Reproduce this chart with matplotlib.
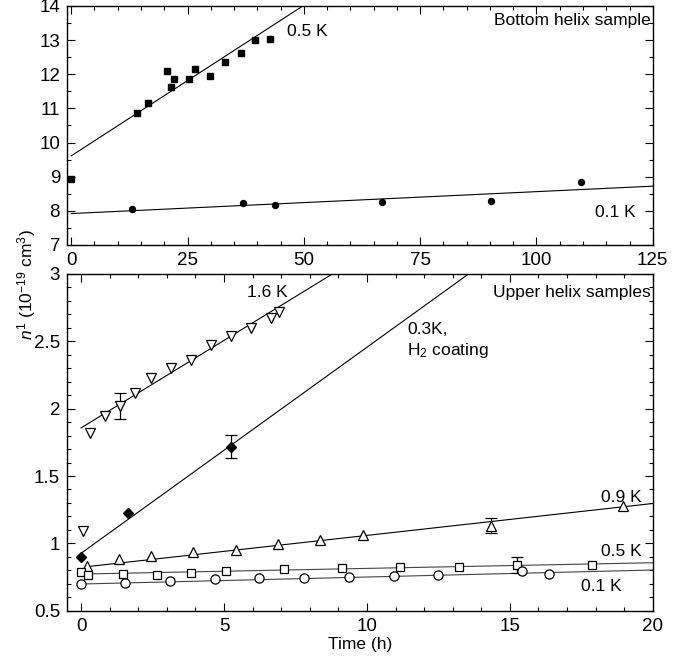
import matplotlib
matplotlib.use("Agg")
import matplotlib.pyplot as plt
import matplotlib.ticker as mticker
import numpy as np

plt.rcParams["font.family"] = ["Liberation Sans", "DejaVu Sans"]
plt.rcParams["font.size"] = 12.5
plt.rcParams["mathtext.fontset"] = "custom"
plt.rcParams["mathtext.rm"] = "Liberation Sans"
plt.rcParams["mathtext.it"] = "Liberation Sans:italic"

# --- bottom helix sample (time in h) ---
top_sq_t = [0, 14.1, 16.4, 20.5, 21.5, 22.1, 25.3, 26.6, 29.9, 33.1, 36.4, 39.6, 42.8]
top_sq_n = [8.93, 10.87, 11.17, 12.09, 11.63, 11.87, 11.87, 12.14, 11.94, 12.36, 12.61, 13.01, 13.04]
top_sq_fit = (9.61, 0.0882)          # intercept, slope

top_ci_t = [13.1, 37.0, 43.8, 66.8, 90.3, 109.6]
top_ci_n = [8.05, 8.24, 8.17, 8.25, 8.29, 8.84]
top_ci_fit = (7.92, 0.00642)

# --- upper helix samples ---
k16_t = [0.08, 0.31, 0.84, 1.38, 1.88, 2.44, 3.16, 3.85, 4.53, 5.24, 5.95, 6.65, 6.92]
k16_n = [1.094, 1.82, 1.946, 2.02, 2.12, 2.227, 2.30, 2.36, 2.475, 2.537, 2.60, 2.67, 2.72]
k16_fit = (1.857, 0.130)
k16_err = (1.38, 2.02, 0.10)

h2_t = [0, 1.66, 5.26]
h2_n = [0.896, 1.228, 1.718]
h2_fit = (0.926, 0.153)
h2_err = (5.26, 1.718, 0.085)

k09_t = [0.22, 1.34, 2.43, 3.92, 5.41, 6.88, 8.36, 9.85, 14.35, 18.95]
k09_n = [0.834, 0.881, 0.908, 0.933, 0.950, 0.998, 1.027, 1.062, 1.131, 1.28]
k09_fit = (0.822, 0.0237)
k09_err = (14.35, 1.131, 0.055)

k05_t = [0, 0.23, 1.48, 2.67, 3.86, 5.08, 7.09, 9.13, 11.16, 13.22, 15.26, 17.88]
k05_n = [0.785, 0.765, 0.772, 0.767, 0.782, 0.795, 0.807, 0.814, 0.822, 0.827, 0.839, 0.839]
k05_fit = (0.772, 0.0042)
k05_err = (15.26, 0.839, 0.057)

k01_t = [0, 1.55, 3.10, 4.69, 6.24, 7.79, 9.38, 10.93, 12.48, 15.44, 16.37]
k01_n = [0.696, 0.705, 0.720, 0.735, 0.745, 0.745, 0.752, 0.755, 0.762, 0.797, 0.772]
k01_fit = (0.698, 0.0052)


def fit_line(ax, fit, x0, x1, color="black"):
    x = np.array([x0, x1])
    ax.plot(x, fit[0] + fit[1] * x, color=color, lw=0.8, zorder=2)


def err_bar(ax, err):
    ax.errorbar([err[0]], [err[1]], yerr=[err[2]], fmt="none", ecolor="black",
                elinewidth=0.9, capsize=4, capthick=0.9, zorder=3)


def style_axes(ax):
    ax.tick_params(which="both", direction="in", top=True, right=True, width=0.8,
                   labelsize=13.5)
    ax.tick_params(which="major", length=6, pad=5)
    ax.tick_params(which="minor", length=3)
    for s in ax.spines.values():
        s.set_linewidth(1.0)


fig = plt.figure(figsize=(6.73, 6.58), dpi=100)
ax1 = fig.add_axes([0.0996, 0.6277, 0.8704, 0.3632])
ax2 = fig.add_axes([0.0996, 0.0719, 0.8704, 0.5117])

# top panel
fit_line(ax1, top_sq_fit, 0, 55)
fit_line(ax1, top_ci_fit, 0, 126)
ax1.plot(top_sq_t, top_sq_n, "s", color="black", ms=4.8, zorder=4)
ax1.plot(top_ci_t, top_ci_n, "o", color="black", ms=4.3, zorder=4)
ax1.set_xlim(-0.9, 125)
ax1.set_ylim(7, 14)
ax1.xaxis.set_major_locator(mticker.MultipleLocator(25))
ax1.xaxis.set_minor_locator(mticker.MultipleLocator(5))
ax1.yaxis.set_major_locator(mticker.MultipleLocator(1))
ax1.yaxis.set_minor_locator(mticker.MultipleLocator(0.5))
style_axes(ax1)
ax1.text(0.997, 0.94, "Bottom helix sample", transform=ax1.transAxes,
         ha="right", va="center")
ax1.text(46.3, 13.25, "0.5 K", ha="left", va="center")
ax1.text(112.5, 7.95, "0.1 K", ha="left", va="center")

# bottom panel
open_kw = dict(mfc="white", mec="black", mew=0.9, zorder=4, ls="none")
fit_line(ax2, k16_fit, 0, 9.5)
fit_line(ax2, h2_fit, 0, 14)
fit_line(ax2, k09_fit, 0.2, 20)
fit_line(ax2, k05_fit, 0, 20, color="#444444")
fit_line(ax2, k01_fit, 0, 20, color="#444444")
err_bar(ax2, k16_err)
err_bar(ax2, h2_err)
err_bar(ax2, k09_err)
err_bar(ax2, k05_err)
ax2.plot(k16_t, k16_n, marker="v", ms=7.2, **open_kw)
ax2.plot(h2_t, h2_n, "D", color="black", ms=4.8, zorder=4)
ax2.plot(k09_t, k09_n, marker="^", ms=7.2, **open_kw)
ax2.plot(k05_t, k05_n, marker="s", ms=6.3, **open_kw)
ax2.plot(k01_t, k01_n, marker="o", ms=6.6, **open_kw)
ax2.set_xlim(-0.49, 20)
ax2.set_ylim(0.5, 3.0)
ax2.xaxis.set_major_locator(mticker.MultipleLocator(5))
ax2.xaxis.set_minor_locator(mticker.MultipleLocator(1))
ax2.yaxis.set_major_locator(mticker.MultipleLocator(0.5))
ax2.yaxis.set_minor_locator(mticker.MultipleLocator(0.1))
ax2.yaxis.set_major_formatter(mticker.FuncFormatter(lambda v, p: f"{v:g}"))
style_axes(ax2)
ax2.text(0.997, 0.945, "Upper helix samples", transform=ax2.transAxes,
         ha="right", va="center")
ax2.text(5.8, 2.86, "1.6 K", ha="left", va="center")
ax2.text(11.4, 2.59, "0.3K,", ha="left", va="center")
ax2.text(11.4, 2.43, "H$_2$ coating", ha="left", va="center")
ax2.text(18.2, 1.34, "0.9 K", ha="left", va="center")
ax2.text(18.2, 0.94, "0.5 K", ha="left", va="center")
ax2.text(17.5, 0.68, "0.1 K", ha="left", va="center")
ax2.set_xlabel("Time (h)", labelpad=2)

fig.text(0.04, 0.567, r"$\it{n}^{1}$ (10$^{-19}$ cm$^{3}$)", rotation=90,
         ha="center", va="center")

fig.savefig("out.png", dpi=100, facecolor="white")
